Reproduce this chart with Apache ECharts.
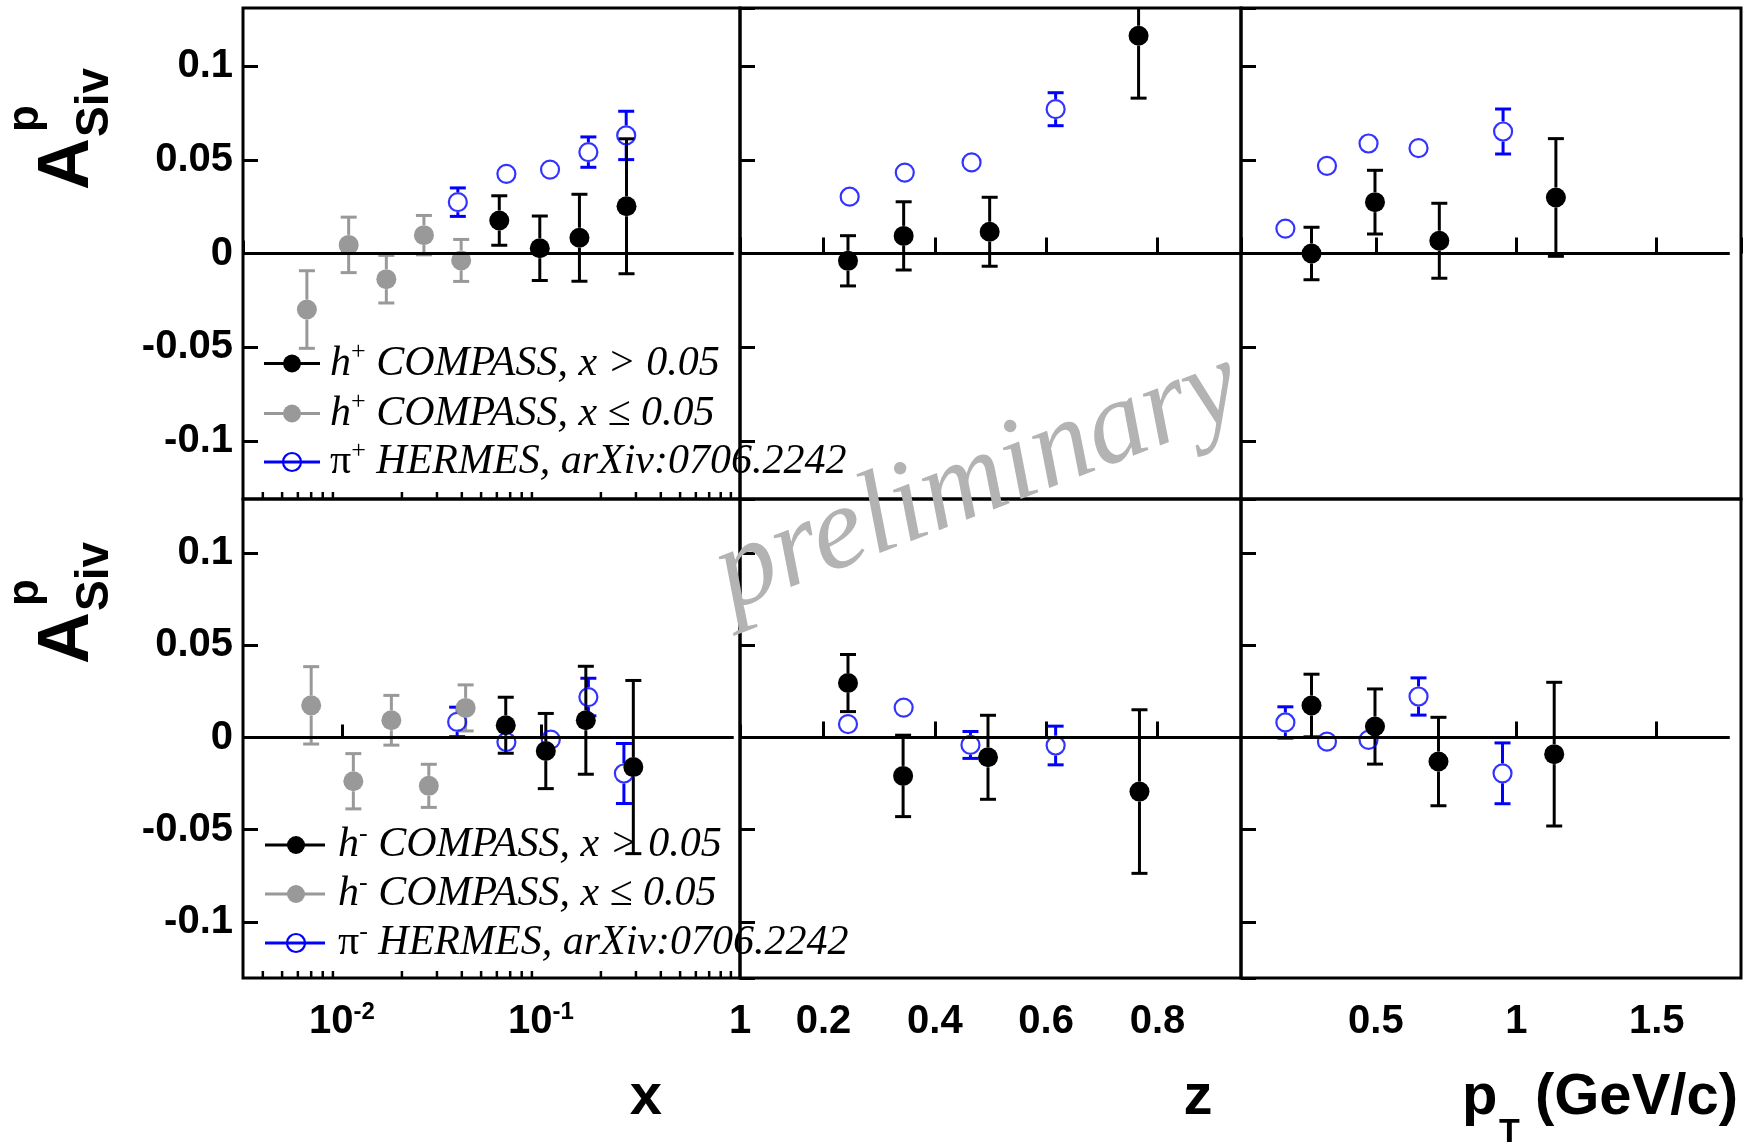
<!DOCTYPE html>
<html>
<head>
<meta charset="utf-8">
<title>Sivers asymmetry A_Siv^p</title>
<script src="https://cdn.jsdelivr.net/npm/echarts@6.0.0/dist/echarts.min.js"></script>
<style>
  html, body { margin: 0; padding: 0; background: #fff; }
  #main { width: 1744px; height: 1144px; }
</style>
</head>
<body>
<div id="main"></div>
<script type="text/javascript">

// ---- data: x panels (log) ----
var hPlusX_x = [0.0617, 0.0986, 0.156, 0.269];
var hPlusX_y = [0.0176, 0.0028, 0.0084, 0.0252];
var hPlusX_e = [0.0132, 0.0172, 0.0232, 0.036];
var hPlusLowX_x = [0.00666, 0.0108, 0.0167, 0.0258, 0.0397];
var hPlusLowX_y = [-0.0299, 0.0046, -0.0137, 0.0098, -0.0037];
var hPlusLowX_e = [0.0207, 0.0148, 0.0127, 0.0105, 0.0112];
var piPlusX_x = [0.0382, 0.067, 0.111, 0.173, 0.268];
var piPlusX_y = [0.0274, 0.0425, 0.0448, 0.0541, 0.063];
var piPlusX_e = [0.0076, 0.004, 0.004, 0.0081, 0.0129];

var hMinusX_x = [0.0665, 0.1057, 0.168, 0.291];
var hMinusX_y = [0.0067, -0.0073, 0.0094, -0.016];
var hMinusX_e = [0.0152, 0.0204, 0.0293, 0.047];
var hMinusLowX_x = [0.0070, 0.0114, 0.0177, 0.0273, 0.0418];
var hMinusLowX_y = [0.0175, -0.0237, 0.0094, -0.0262, 0.0161];
var hMinusLowX_e = [0.021, 0.015, 0.0135, 0.0117, 0.0125];
var piMinusX_x = [0.0379, 0.067, 0.112, 0.173, 0.261];
var piMinusX_y = [0.0085, -0.0024, -0.0011, 0.022, -0.0195];
var piMinusX_e = [0.008, 0.004, 0.004, 0.0102, 0.0163];

// ---- z panels ----
var hPlusZ_x = [0.244, 0.344, 0.4985, 0.766];
var hPlusZ_y = [-0.0039, 0.0094, 0.0116, 0.1162];
var hPlusZ_e = [0.0134, 0.0182, 0.0184, 0.0333];
var piPlusZ_x = [0.247, 0.346, 0.466, 0.617];
var piPlusZ_y = [0.0303, 0.0432, 0.0486, 0.077];
var piPlusZ_e = [0.004, 0.004, 0.004, 0.0088];

var hMinusZ_x = [0.244, 0.343, 0.4955, 0.7676];
var hMinusZ_y = [0.0296, -0.0208, -0.0107, -0.0293];
var hMinusZ_e = [0.0155, 0.0221, 0.0228, 0.0444];
var piMinusZ_x = [0.244, 0.344, 0.464, 0.617];
var piMinusZ_y = [0.0073, 0.0163, -0.004, -0.0043];
var piMinusZ_e = [0.004, 0.004, 0.0073, 0.0105];

// ---- pT panels ----
var hPlusPt_x = [0.271, 0.497, 0.726, 1.141];
var hPlusPt_y = [0.0, 0.0274, 0.0068, 0.0299];
var hPlusPt_e = [0.014, 0.017, 0.02, 0.0314];
var piPlusPt_x = [0.178, 0.326, 0.474, 0.652, 0.953];
var piPlusPt_y = [0.0133, 0.0468, 0.0587, 0.0562, 0.0651];
var piPlusPt_e = [0.004, 0.004, 0.004, 0.004, 0.012];

var hMinusPt_x = [0.271, 0.497, 0.723, 1.135];
var hMinusPt_y = [0.0174, 0.006, -0.013, -0.009];
var hMinusPt_e = [0.017, 0.0204, 0.024, 0.039];
var piMinusPt_x = [0.178, 0.326, 0.474, 0.652, 0.951];
var piMinusPt_y = [0.0082, -0.0022, -0.0012, 0.0223, -0.0194];
var piMinusPt_e = [0.0085, 0.004, 0.004, 0.0101, 0.0165];

// axis ranges and reference line extents
var xRange = [0.00318, 1];
var zRange = [0.05, 0.95];
var ptRange = [0.02, 1.8];
var yRangeTop = [-0.131, 0.131];
var yRangeBottom = [-0.1305, 0.1295];
var zeroLineX = [0.00318, 0.93];
var zeroLineZ = [0.05, 0.95];
var zeroLinePt = [0.02, 1.76];
var logMinorTicks = [0.004, 0.005, 0.006, 0.007, 0.008, 0.009,
                     0.02, 0.03, 0.04, 0.05, 0.06, 0.07, 0.08, 0.09,
                     0.2, 0.3, 0.4, 0.5, 0.6, 0.7, 0.8, 0.9];

var BLACK = '#000000', GREY = '#999999', BLUE = '#0000ff';
var markerR = 10, capW = 8;
var SANS = 'Liberation Sans', SERIF = 'Liberation Serif';

var myChart = echarts.init(document.getElementById('main'));

// grid layout: 0..2 top row, 3..5 bottom row
var cols = [{ left: 243, width: 497 }, { left: 740, width: 501 }, { left: 1241, width: 500 }];
var rows = [{ top: 8, height: 491 }, { top: 499, height: 479 }];
var grids = [];
rows.forEach(function (r) {
    cols.forEach(function (c) {
        grids.push({ left: c.left, top: r.top, width: c.width, height: r.height,
            show: true, borderColor: '#000', borderWidth: 3, backgroundColor: 'transparent' });
    });
});

var labelRich = { s: { fontSize: 24, fontWeight: 'bold', fontFamily: SANS, color: '#000', verticalAlign: 'top', lineHeight: 28 } };

function xAxisCfg(gridIdx, kind, showLabel) {
    var range = kind === 'x' ? xRange : (kind === 'z' ? zRange : ptRange);
    var cfg = {
        type: kind === 'x' ? 'log' : 'value',
        gridIndex: gridIdx, min: range[0], max: range[1],
        axisLine: { show: false }, splitLine: { show: false },
        axisTick: { inside: true, length: kind === 'x' ? 13 : 16, lineStyle: { color: '#000', width: 3 } },
        axisLabel: { show: showLabel, showMinLabel: false, showMaxLabel: kind === 'x',
            fontSize: 40, fontWeight: 'bold', fontFamily: SANS, color: '#000', margin: 22, lineHeight: 44,
            rich: labelRich }
    };
    if (kind === 'x') {
        cfg.logBase = 10;
        cfg.axisLabel.formatter = function (v) {
            var p = Math.round(Math.log10(v));
            return p === 0 ? '1' : '10{s|' + p + '}';
        };
    } else if (kind === 'pt') {
        cfg.splitNumber = 3;
    } else {
        cfg.splitNumber = 5;
    }
    return cfg;
}

function yAxisCfg(gridIdx, range, showLabel) {
    return {
        type: 'value', gridIndex: gridIdx, min: range[0], max: range[1], splitNumber: 5,
        axisLine: { show: false }, splitLine: { show: false },
        axisTick: { inside: true, length: 15, lineStyle: { color: '#000', width: 3 } },
        axisLabel: { show: showLabel, showMinLabel: false, showMaxLabel: false,
            fontSize: 40, fontWeight: 'bold', fontFamily: SANS, color: '#000', margin: 10 }
    };
}

var xAxes = [
    xAxisCfg(0, 'x', false), xAxisCfg(1, 'z', false), xAxisCfg(2, 'pt', false),
    xAxisCfg(3, 'x', true), xAxisCfg(4, 'z', true), xAxisCfg(5, 'pt', true)
];
var yAxes = [
    yAxisCfg(0, yRangeTop, true), yAxisCfg(1, yRangeTop, false), yAxisCfg(2, yRangeTop, false),
    yAxisCfg(3, yRangeBottom, true), yAxisCfg(4, yRangeBottom, false), yAxisCfg(5, yRangeBottom, false)
];

var series = [];

function addZeroLine(idx, ext) {
    series.push({
        type: 'line', xAxisIndex: idx, yAxisIndex: idx, silent: true,
        data: [[ext[0], 0], [ext[1], 0]], symbol: 'none',
        lineStyle: { color: '#000', width: 3 }
    });
}

function addMinorTicks(idx) {
    series.push({
        type: 'custom', xAxisIndex: idx, yAxisIndex: idx, silent: true,
        data: logMinorTicks.map(function (v) { return [v, 0]; }),
        renderItem: function (params, api) {
            var cs = params.coordSys;
            var px = api.coord([api.value(0), 0])[0];
            var yb = cs.y + cs.height;
            return { type: 'line', shape: { x1: px, y1: yb, x2: px, y2: yb - 7 },
                style: { stroke: '#000', lineWidth: 2.5 } };
        }
    });
}

// error bars in the ROOT style: drawn from the marker edge, with caps
function addPoints(idx, xs, ys, es, color, hollow) {
    var data = xs.map(function (x, i) { return [x, ys[i], es[i]]; });
    series.push({
        type: 'custom', xAxisIndex: idx, yAxisIndex: idx, silent: true, clip: true,
        data: data,
        renderItem: function (params, api) {
            var x = api.value(0), y = api.value(1), e = api.value(2);
            var c = api.coord([x, y]);
            var ends = [api.coord([x, y + e]), api.coord([x, y - e])];
            var st = { stroke: color, lineWidth: 3 };
            var children = [];
            ends.forEach(function (end) {
                var d = end[1] - c[1];
                if (Math.abs(d) <= markerR) return;
                var s = d > 0 ? 1 : -1;
                children.push({ type: 'line', shape: { x1: c[0], y1: c[1] + s * markerR, x2: c[0], y2: end[1] }, style: st });
                children.push({ type: 'line', shape: { x1: c[0] - capW, y1: end[1], x2: c[0] + capW, y2: end[1] }, style: st });
            });
            return { type: 'group', children: children };
        }
    });
    series.push({
        type: 'scatter', xAxisIndex: idx, yAxisIndex: idx, silent: true,
        data: xs.map(function (x, i) { return [x, ys[i]]; }),
        symbol: 'circle', symbolSize: hollow ? 18 : 20,
        itemStyle: hollow ? { color: 'rgba(0,0,0,0)', borderColor: color, borderWidth: 2.2 }
                          : { color: color, opacity: 1 }
    });
}

// top row
addZeroLine(0, zeroLineX); addMinorTicks(0);
addPoints(0, piPlusX_x, piPlusX_y, piPlusX_e, BLUE, true);
addPoints(0, hPlusLowX_x, hPlusLowX_y, hPlusLowX_e, GREY, false);
addPoints(0, hPlusX_x, hPlusX_y, hPlusX_e, BLACK, false);
addZeroLine(1, zeroLineZ);
addPoints(1, piPlusZ_x, piPlusZ_y, piPlusZ_e, BLUE, true);
addPoints(1, hPlusZ_x, hPlusZ_y, hPlusZ_e, BLACK, false);
addZeroLine(2, zeroLinePt);
addPoints(2, piPlusPt_x, piPlusPt_y, piPlusPt_e, BLUE, true);
addPoints(2, hPlusPt_x, hPlusPt_y, hPlusPt_e, BLACK, false);
// bottom row
addZeroLine(3, zeroLineX); addMinorTicks(3);
addPoints(3, piMinusX_x, piMinusX_y, piMinusX_e, BLUE, true);
addPoints(3, hMinusLowX_x, hMinusLowX_y, hMinusLowX_e, GREY, false);
addPoints(3, hMinusX_x, hMinusX_y, hMinusX_e, BLACK, false);
addZeroLine(4, zeroLineZ);
addPoints(4, piMinusZ_x, piMinusZ_y, piMinusZ_e, BLUE, true);
addPoints(4, hMinusZ_x, hMinusZ_y, hMinusZ_e, BLACK, false);
addZeroLine(5, zeroLinePt);
addPoints(5, piMinusPt_x, piMinusPt_y, piMinusPt_e, BLUE, true);
addPoints(5, hMinusPt_x, hMinusPt_y, hMinusPt_e, BLACK, false);

// ---- legends, titles, watermark ----
var legendRich = {
    i: { fontFamily: SERIF, fontStyle: 'italic', fontSize: 42, lineHeight: 48, fill: '#000' },
    u: { fontFamily: SERIF, fontSize: 42, lineHeight: 48, fill: '#000' },
    s: { fontFamily: SERIF, fontSize: 26, lineHeight: 30, verticalAlign: 'top', fill: '#000' }
};
var legendTop = ['{i|h}{s|+}{i| COMPASS, x > 0.05}', '{i|h}{s|+}{i| COMPASS, x ≤ 0.05}', '{u|π}{s|+}{i| HERMES, arXiv:0706.2242}'];
var legendBottom = ['{i|h}{s|-}{i| COMPASS, x > 0.05}', '{i|h}{s|-}{i| COMPASS, x ≤ 0.05}', '{u|π}{s|-}{i| HERMES, arXiv:0706.2242}'];
var legendColors = [BLACK, GREY, BLUE];

var graphics = [];
function addLegend(texts, ys, lx0, lx1, mx, tx) {
    texts.forEach(function (t, i) {
        var col = legendColors[i], y = ys[i];
        graphics.push({ type: 'line', z: 50, shape: { x1: lx0, y1: y, x2: lx1, y2: y }, style: { stroke: col, lineWidth: 3 } });
        graphics.push({ type: 'circle', z: 51, shape: { cx: mx, cy: y, r: 9 },
            style: i === 2 ? { fill: 'none', stroke: col, lineWidth: 2.2 } : { fill: col } });
        graphics.push({ type: 'text', z: 51, x: tx, y: y,
            style: { text: t, rich: legendRich, fill: '#000', verticalAlign: 'middle', textVerticalAlign: 'middle' } });
    });
}
addLegend(legendTop, [363.5, 413.5, 462], 264, 320, 292, 330);
addLegend(legendBottom, [845, 894, 943], 265, 325, 296, 338);

function yTitle(ox, oy) {
    return {
        type: 'group', x: ox, y: oy, rotation: Math.PI / 2, z: 50,
        children: [
            { type: 'text', x: 0, y: -25, style: { text: 'A', fontFamily: SANS, fontWeight: 'bold', fontSize: 72, fill: '#000', verticalAlign: 'middle', textVerticalAlign: 'middle' } },
            { type: 'text', x: 58, y: -67, style: { text: 'p', fontFamily: SANS, fontWeight: 'bold', fontSize: 44, fill: '#000', verticalAlign: 'middle', textVerticalAlign: 'middle' } },
            { type: 'text', x: 53, y: 2, style: { text: 'Siv', fontFamily: SANS, fontWeight: 'bold', fontSize: 46, fill: '#000', verticalAlign: 'middle', textVerticalAlign: 'middle' } }
        ]
    };
}
graphics.push(yTitle(93, 190));
graphics.push(yTitle(93, 664));

function axisTitle(text, x, y, size, align) {
    return { type: 'text', z: 50, x: x, y: y,
        style: { text: text, fontFamily: SANS, fontWeight: 'bold', fontSize: size, fill: '#000',
            align: align, textAlign: align, verticalAlign: 'middle', textVerticalAlign: 'middle' } };
}
graphics.push(axisTitle('x', 646, 1098, 58, 'center'));
graphics.push(axisTitle('z', 1198, 1098, 58, 'center'));
graphics.push(axisTitle('p', 1462, 1098, 58, 'left'));
graphics.push(axisTitle('T', 1499, 1133, 34, 'left'));
graphics.push(axisTitle('(GeV/c)', 1738, 1098, 58, 'right'));

graphics.push({
    type: 'text', z: 100, x: 978, y: 482, rotation: 21 * Math.PI / 180,
    style: { text: 'preliminary', fontFamily: SERIF, fontStyle: 'italic', fontSize: 118, fill: '#b3b3b3',
        align: 'center', textAlign: 'center', verticalAlign: 'middle', textVerticalAlign: 'middle' }
});

var option = {
    animation: false,
    backgroundColor: '#ffffff',
    grid: grids,
    xAxis: xAxes,
    yAxis: yAxes,
    series: series,
    graphic: { elements: graphics }
};
myChart.setOption(option);

</script>
</body>
</html>
